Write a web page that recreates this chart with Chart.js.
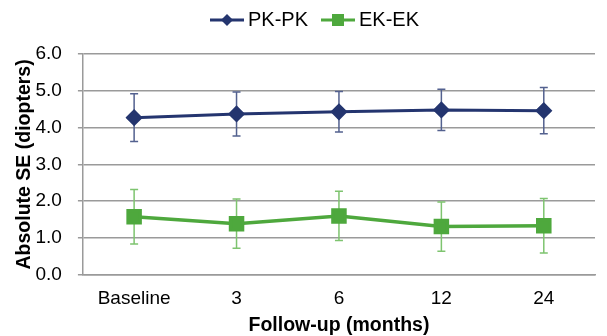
<!DOCTYPE html>
<html>
<head>
<meta charset="utf-8">
<script src="https://cdn.jsdelivr.net/npm/chart.js@4"></script>
<style>
  html, body { margin: 0; padding: 0; background: #fff; }
  #wrap { width: 607px; height: 336px; }
</style>
</head>
<body>
<div id="wrap"><canvas id="grafico" width="607" height="336"></canvas></div>
<script>
// Datos del gráfico
var categorias = ['Baseline', '3', '6', '12', '24'];
var pkValores = [4.27, 4.37, 4.43, 4.48, 4.46];
var pkError = [0.65, 0.60, 0.55, 0.56, 0.63];
var ekValores = [1.58, 1.39, 1.60, 1.31, 1.33];
var ekError = [0.74, 0.67, 0.67, 0.67, 0.74];
var yTicks = [0, 1, 2, 3, 4, 5, 6];

var colorPK = '#24356f';
var colorEK = '#4ea83d';
var errPK = '#53618f';
var errEK = '#7ec46f';

// icono de leyenda: linea + marcador (con hueco a la izquierda)
function iconoLeyenda(color, forma) {
  var c = document.createElement('canvas');
  c.width = 44; c.height = 14;
  var ctx = c.getContext('2d');
  ctx.strokeStyle = color;
  ctx.lineWidth = 3;
  ctx.beginPath(); ctx.moveTo(10, 7); ctx.lineTo(44, 7); ctx.stroke();
  ctx.fillStyle = color;
  if (forma === 'rombo') {
    ctx.beginPath();
    ctx.moveTo(27, 1); ctx.lineTo(33, 7); ctx.lineTo(27, 13); ctx.lineTo(21, 7);
    ctx.closePath(); ctx.fill();
  } else {
    ctx.fillRect(21, 1, 12, 12);
  }
  return c;
}

// barras de error
var barrasError = {
  id: 'barrasError',
  beforeDatasetsDraw: function(chart) {
    var ctx = chart.ctx;
    var y = chart.scales.y;
    chart.data.datasets.forEach(function(ds, i) {
      var meta = chart.getDatasetMeta(i);
      ctx.save();
      ctx.strokeStyle = ds.errorColor;
      ctx.lineWidth = 1.5;
      meta.data.forEach(function(p, j) {
        var v = ds.data[j], e = ds.errores[j];
        var top = y.getPixelForValue(v + e);
        var bot = y.getPixelForValue(v - e);
        ctx.beginPath();
        ctx.moveTo(p.x, top); ctx.lineTo(p.x, bot);
        ctx.moveTo(p.x - 4, top); ctx.lineTo(p.x + 4, top);
        ctx.moveTo(p.x - 4, bot); ctx.lineTo(p.x + 4, bot);
        ctx.stroke();
      });
      ctx.restore();
    });
  }
};

// espacio extra bajo la leyenda y leyenda un poco a la derecha
var margenLeyenda = {
  id: 'margenLeyenda',
  beforeInit: function(chart) {
    var fit = chart.legend.fit;
    chart.legend.fit = function() {
      fit.bind(chart.legend)();
      this.height += 14;
    };
  },
  afterLayout: function(chart) {
    chart.legend.left += 10;
    chart.legend.right += 10;
  }
};

Chart.defaults.font.family = '"Liberation Sans", Arial, sans-serif';
Chart.defaults.color = '#000';

var datos = {
  labels: categorias,
  datasets: [{
    label: 'PK-PK',
    data: pkValores,
    errores: pkError,
    errorColor: errPK,
    borderColor: colorPK,
    backgroundColor: colorPK,
    borderWidth: 3,
    pointStyle: 'rectRot',
    pointRadius: 6.5,
    pointHoverRadius: 6.5,
    legendIcon: iconoLeyenda(colorPK, 'rombo')
  }, {
    label: 'EK-EK',
    data: ekValores,
    errores: ekError,
    errorColor: errEK,
    borderColor: colorEK,
    backgroundColor: colorEK,
    borderWidth: 3.5,
    pointStyle: 'rect',
    pointRadius: 8.5,
    pointHoverRadius: 8.5,
    legendIcon: iconoLeyenda(colorEK, 'cuadro')
  }]
};

var opciones = {
  responsive: false,
  animation: false,
  layout: { padding: { left: 0, right: 2, top: 1, bottom: 0 } },
  plugins: {
    tooltip: { enabled: false },
    legend: {
      position: 'top',
      labels: {
        usePointStyle: true,
        pointStyleWidth: 32,
        font: { size: 20 },
        padding: 9,
        generateLabels: function(chart) {
          return chart.data.datasets.map(function(ds, i) {
            return { text: ds.label, pointStyle: ds.legendIcon, fillStyle: ds.borderColor,
                     strokeStyle: ds.borderColor, lineWidth: 0, datasetIndex: i, hidden: false };
          });
        }
      }
    }
  },
  scales: {
    x: {
      offset: true,
      afterFit: function(scale) {
        // sin margen extra a la derecha por la ultima etiqueta
        scale.paddingRight = 0;
      },
      grid: { display: false },
      border: { color: '#9a9a9a', width: 1.5 },
      ticks: { font: { size: 19 }, padding: 5 },
      title: { display: true, text: 'Follow-up (months)', font: { size: 19.5, weight: 'bold' }, padding: { top: -2, bottom: -1 } }
    },
    y: {
      min: 0,
      max: 6,
      afterBuildTicks: function(scale) {
        scale.ticks = yTicks.map(function(v) { return { value: v }; });
      },
      grid: { color: '#9a9a9a', lineWidth: 1.5, tickLength: 5 },
      border: { color: '#9a9a9a', width: 1.5 },
      ticks: {
        font: { size: 19 },
        padding: 16,
        callback: function(v) { return Number(v).toFixed(1); }
      },
      title: { display: true, text: 'Absolute SE (diopters)', font: { size: 19.5, weight: 'bold', lineHeight: 1 }, padding: { top: 15, bottom: -15 } }
    }
  }
};

var canvas = document.getElementById('grafico');
var grafico = new Chart(canvas, {
  type: 'line',
  data: datos,
  options: opciones,
  plugins: [barrasError, margenLeyenda]
});
</script>
</body>
</html>
